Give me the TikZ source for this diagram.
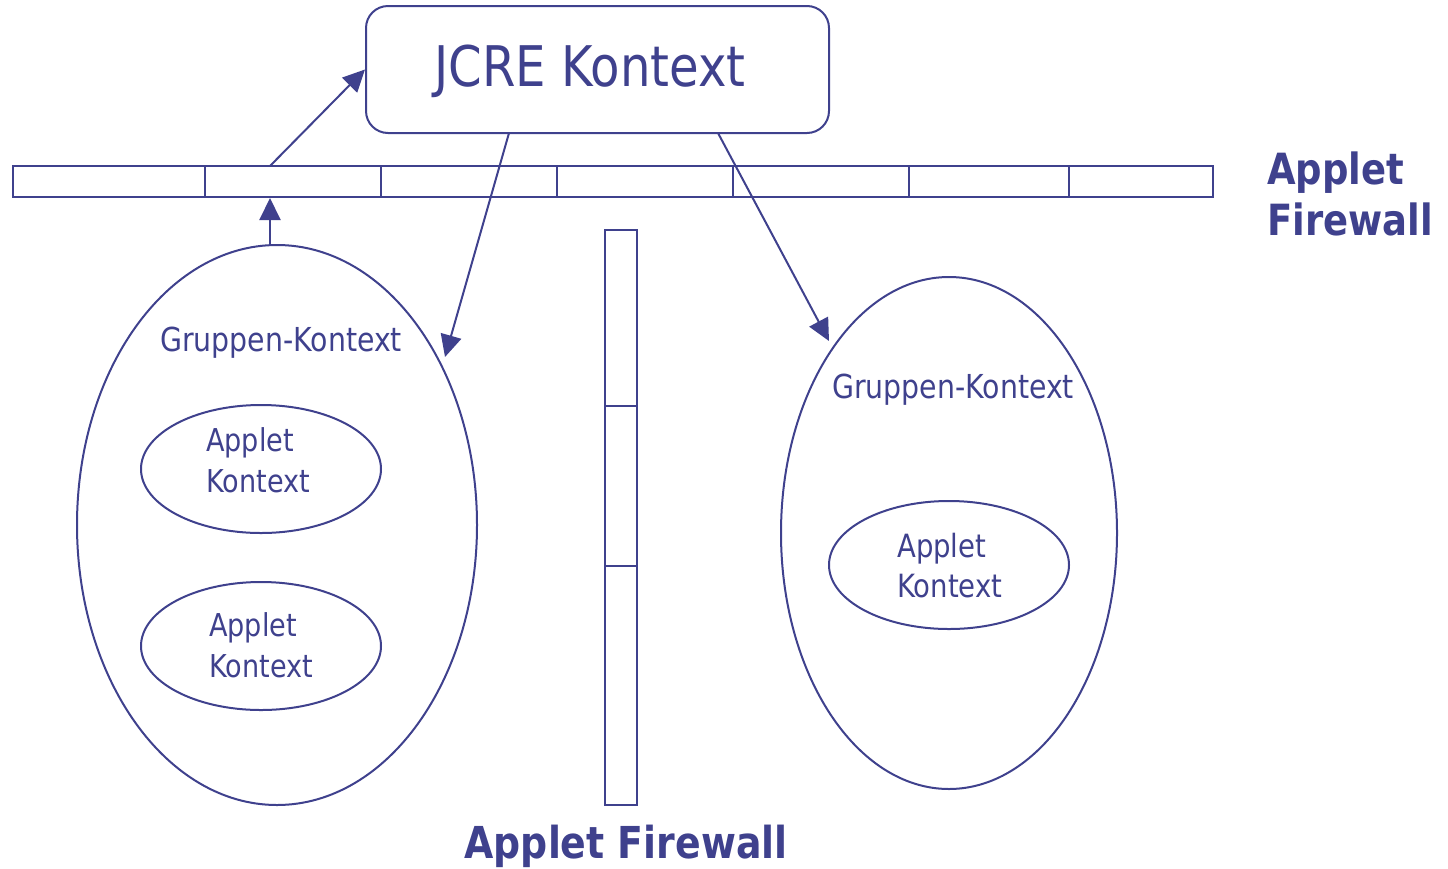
\documentclass[tikz,border=0pt]{standalone}
\usepackage{fontspec}
\setmainfont{DejaVu Sans}[FakeStretch=0.86]
\usetikzlibrary{shapes.geometric,arrows.meta}
\definecolor{fw}{RGB}{63,65,141}
\tikzset{
  ln/.style={draw=fw,line width=2pt},
  arr/.style={ln,-{Triangle[length=22pt,width=21pt]}},
  txt/.style={text=fw,inner sep=0pt,anchor=base},
  txtw/.style={text=fw,inner sep=0pt,anchor=base west},
  ell/.style={ln,ellipse,inner sep=0pt},
  barbox/.style={ln,rectangle,inner sep=0pt},
}
\begin{document}
\begin{tikzpicture}[x=1pt,y=-1pt]
\useasboundingbox (0,0) rectangle (1448,868);
% JCRE box
\node[ln,rectangle,rounded corners=22pt,minimum width=463pt,minimum height=127pt] (box) at (597.5,69.5) {};
\node[txt,font=\fontsize{56}{62}\selectfont] (jcre) at (590,86) {JCRE Kontext};
% horizontal firewall bar
\node[barbox,minimum width=1200pt,minimum height=31pt] (hbar) at (613,181.5) {};
\foreach \x [count=\i] in {205,381,557,733,909,1069}
  \draw[ln] (hbar.north -| \x,0) -- (hbar.south -| \x,0);
% vertical firewall bar
\node[barbox,minimum width=32pt,minimum height=575pt] (vbar) at (621,517.5) {};
\foreach \y in {406,566}
  \draw[ln] (vbar.west |- 0,\y) -- (vbar.east |- 0,\y);
% left group
\node[ell,minimum width=400pt,minimum height=560pt] (gl) at (277,525) {};
\node[ell,minimum width=240pt,minimum height=128pt] (al1) at (261,469) {};
\node[ell,minimum width=240pt,minimum height=128pt] (al2) at (261,646) {};
\node[txt,font=\fontsize{33}{37}\selectfont] (gltxt) at (281,351) {Gruppen-Kontext};
\node[txtw,font=\fontsize{31.5}{35}\selectfont] (al1a) at (206,451) {Applet};
\node[txtw,font=\fontsize{31.5}{35}\selectfont] (al1b) at (206,492) {Kontext};
\node[txtw,font=\fontsize{31.5}{35}\selectfont] (al2a) at (209,636) {Applet};
\node[txtw,font=\fontsize{31.5}{35}\selectfont] (al2b) at (209,677) {Kontext};
% right group
\node[ell,minimum width=336pt,minimum height=512pt] (gr) at (949,533) {};
\node[ell,minimum width=240pt,minimum height=128pt] (ar1) at (949,565) {};
\node[txt,font=\fontsize{33}{37}\selectfont] (grtxt) at (953,398) {Gruppen-Kontext};
\node[txtw,font=\fontsize{32}{36}\selectfont] (ar1a) at (897,557) {Applet};
\node[txtw,font=\fontsize{32}{36}\selectfont] (ar1b) at (897,597) {Kontext};
% firewall labels
\node[txtw,font=\bfseries\fontsize{43}{48}\selectfont] (fw1a) at (1267,184) {Applet};
\node[txtw,font=\bfseries\fontsize{43}{48}\selectfont] (fw1b) at (1267,235) {Firewall};
\node[txt,font=\bfseries\fontsize{44}{49}\selectfont] (fw2) at (626,858) {Applet Firewall};
% arrow endpoints
\coordinate (s1) at (270,166);
\coordinate (s2) at (270,245);
\coordinate (e2) at (270,198);
\coordinate (s3) at (509,133);
\coordinate (e3) at (445,357);
\coordinate (s4) at (718,133);
\coordinate (e4) at (829,341);
% arrows
\draw[arr] (s1) -- (box.west);
\draw[arr] (s2) -- (e2);
\draw[arr] (s3) -- (e3);
\draw[arr] (s4) -- (e4);
\end{tikzpicture}
\end{document}
